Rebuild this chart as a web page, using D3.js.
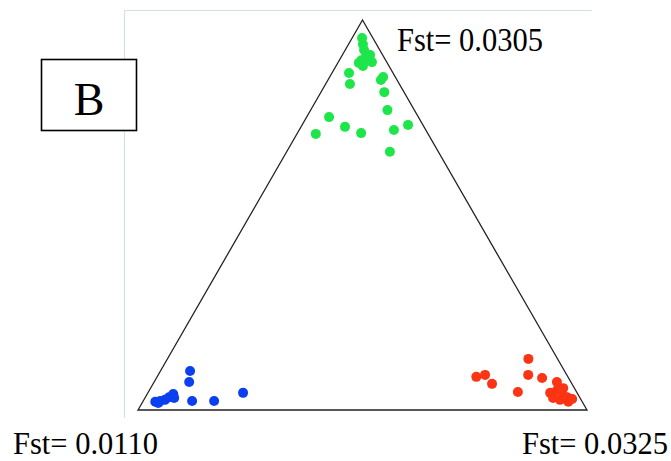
<!DOCTYPE html>
<html lang="en">
<head>
<meta charset="UTF-8">
<title>Ternary Fst plot B</title>
<script src="https://d3js.org/d3.v7.min.js"></script>
<style>
  body { margin: 0; background: #fff; }
  text { font-family: "Liberation Serif", "Times New Roman", serif; fill: #000; }
</style>
</head>
<body>
<script>
// ternary compositions: [top, left, right]
const greenPts = [
  [.954, .024, .022], [.938, .030, .032], [.923, .035, .042], [.908, .038, .054],
  [.897, .039, .064], [.910, .028, .062], [.897, .054, .049], [.882, .058, .060],
  [.890, .063, .047], [.892, .033, .075], [.864, .098, .038], [.836, .110, .054],
  [.854, .027, .119], [.846, .036, .118], [.815, .044, .141], [.769, .060, .171],
  [.751, .199, .050], [.708, .250, .042], [.726, .176, .098], [.710, .148, .142],
  [.718, .071, .211], [.731, .033, .236], [.662, .108, .230]
];
const bluePts = [
  [.100, .834, .066], [.072, .850, .078], [.023, .868, .109], [.023, .819, .158],
  [.044, .744, .212], [.021, .951, .028], [.023, .939, .038], [.026, .927, .047],
  [.033, .914, .053], [.041, .901, .058], [.031, .904, .065], [.018, .946, .036]
];
const redPts = [
  [.085, .204, .711], [.090, .182, .728], [.067, .178, .755], [.131, .065, .804],
  [.090, .086, .824], [.082, .059, .859], [.046, .131, .823], [.072, .031, .897],
  [.044, .060, .896], [.051, .041, .908], [.056, .025, .919], [.033, .028, .939],
  [.026, .047, .927], [.031, .060, .909], [.021, .031, .948], [.038, .034, .928],
  [.028, .019, .953]
];
const corners = [[1, 0, 0], [0, 1, 0], [0, 0, 1]];
const fstLabels = ["Fst= 0.0305", "Fst= 0.0110", "Fst= 0.0325"];
const panelLabel = "B";

const width = 671, height = 461;
const svg = d3.select("body").append("svg")
  .attr("width", width).attr("height", height);

const x = d3.scaleLinear().domain([0, 1]).range([138, 587]);
const y = d3.scaleLinear().domain([0, 1]).range([410, 20]);
const px = d => x(d[2] + d[0] / 2);
const py = d => y(d[0]);

// faint frame
svg.append("path")
  .attr("d", "M124.5,418V10.5H592")
  .attr("fill", "none").attr("stroke", "#d3e0e8").attr("stroke-width", 1.2);

// triangle
svg.append("path")
  .attr("d", d3.line().x(px).y(py)(corners) + "Z")
  .attr("fill", "none").attr("stroke", "#222").attr("stroke-width", 1.3);

const groups = [[greenPts, "#1ee64a"], [bluePts, "#0b3ff0"], [redPts, "#fb3414"]];
groups.forEach(([pts, col]) => {
  svg.append("g").selectAll("circle")
    .data(pts).join("circle")
    .attr("cx", px).attr("cy", py).attr("r", 5)
    .attr("fill", col);
});

// panel box
svg.append("rect")
  .attr("x", 41.5).attr("y", 59.5).attr("width", 95).attr("height", 71)
  .attr("fill", "#fff").attr("stroke", "#000").attr("stroke-width", 1.6);
svg.append("text")
  .attr("x", 89).attr("y", 115).attr("text-anchor", "middle")
  .style("font-size", "46px").text(panelLabel);

// corner labels
const labelPos = [[397, 51, "start", 1.1], [13, 454, "start", 1], [668, 454, "end", 1]];
labelPos.forEach(([lx, ly, anchor, sy], i) => {
  svg.append("text")
    .attr("transform", `translate(${lx},${ly}) scale(1,${sy})`)
    .attr("text-anchor", anchor)
    .style("font-size", "30.5px")
    .text(fstLabels[i]);
});
</script>
</body>
</html>
